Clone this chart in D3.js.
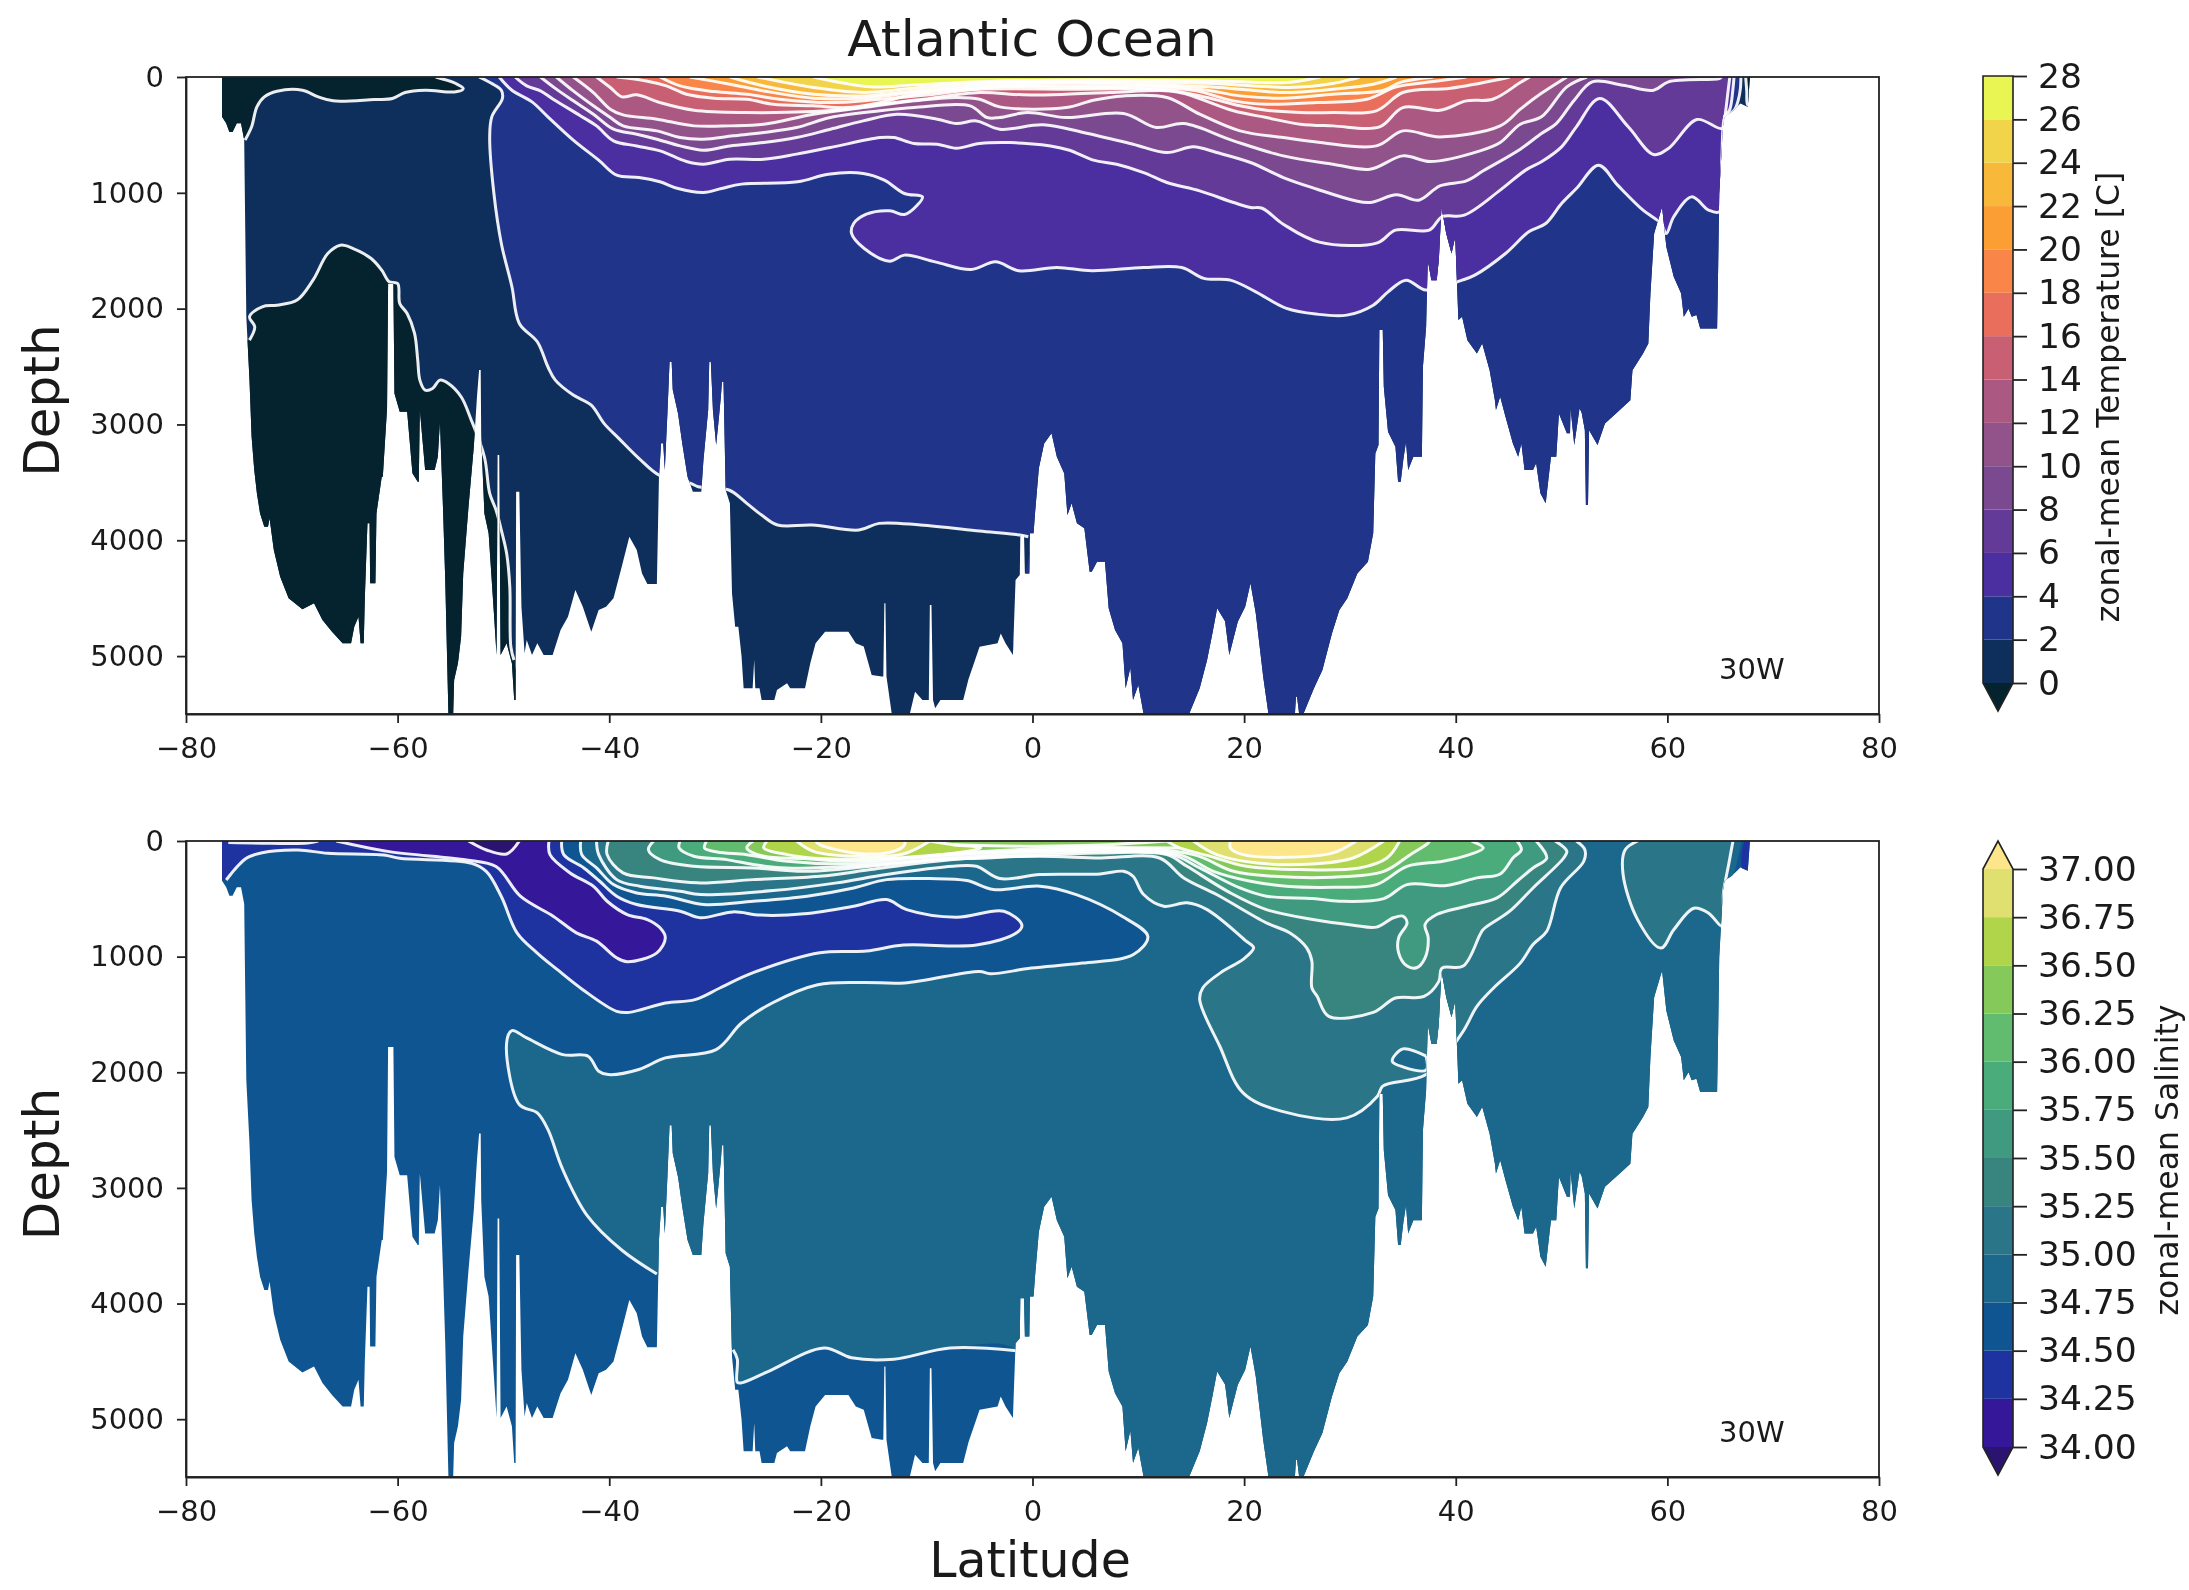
<!DOCTYPE html>
<html>
<head>
<meta charset="utf-8">
<script src="https://cdn.jsdelivr.net/npm/d3@7"></script>
<style>
  html, body { margin: 0; padding: 0; background: #fff; }
  svg { display: block; filter: blur(0.7px); }
  text { font-family: "DejaVu Sans", sans-serif; fill: #1a1a1a; }
</style>
</head>
<body>
<script>
var width = 2189, height = 1590;

var latTicks = [-80, -60, -40, -20, 0, 20, 40, 60, 80];
var depthTicks = [0, 1000, 2000, 3000, 4000, 5000];

var tempLevels = [0, 2, 4, 6, 8, 10, 12, 14, 16, 18, 20, 22, 24, 26, 28];
var tempColors = ["#0e2f5c", "#20358a", "#4b2fa0", "#633a98", "#7a4990", "#91538a", "#ab5882", "#c95f73", "#e96f5c", "#f98549", "#fb9f35", "#f8b93a", "#f2d44a", "#e8f552"];
var tempUnder = "#05232e";

var saltLevels = [34, 34.25, 34.5, 34.75, 35, 35.25, 35.5, 35.75, 36, 36.25, 36.5, 36.75, 37];
var saltColors = ["#35189a", "#1f33a0", "#0f5592", "#1b688c", "#2a7688", "#37857e", "#3f9a80", "#4bac7b", "#62bc6f", "#85c95a", "#b0d44a", "#dfe070"];
var saltUnder = "#2b1470", saltOver = "#fde68a";

// sea floor, [latitude, depth]
var bathy = [[-76.6,344],[-76.2,400],[-75.9,474],[-75.6,474],[-75.2,400],[-74.8,400],[-74.5,545],[-74.4,1320],[-74.3,2070],[-74,2617],
[-73.8,3106],[-73.55,3394],[-73.3,3595],[-73,3768],[-72.6,3883],[-72.25,3883],[-72.1,3811],[-71.7,4084],[-71.1,4314],[-70.3,4501],[-69,4596],[-67.9,4544],[-67.1,4688],[-66.2,4790],[-65.2,4890],[-64.4,4890],[-64.1,4746],[-63.7,4660],[-63.5,4890],[-63.2,4890],[-63.1,4500],[-62.85,3854],[-62.65,3854],[-62.6,4372],[-62.1,4372],[-62,3768],[-61.5,3451],[-61.4,3451],[-61,2862],
[-60.9,1782],[-60.4,1782],[-60.3,2732],[-59.8,2890],[-59.1,2890],[-58.6,3422],[-58.1,3494],[-58,3494],[-57.9,2876],[-57.4,3394],[-56.5,3394],[-56.2,3279],[-56,2976],[-55.7,3753],[-55.5,4343],[-55.2,5500],[-54.75,5500],[-54.66,5206],[-54.3,5062],[-54,4832],[-53.8,4286],[-53.3,3710],[-52.8,3192],[-52.5,2760],[-52.3,2530],[-52.15,2530],[-52.1,3106],[-51.8,3768],[-51.4,3940],[-50.9,4631],[-50.65,4990],[-50.55,3264],[-50.4,3264],[-50.27,4990],[-49.7,4890],[-49.2,5062],[-48.98,5379],[-48.85,5379],[-48.8,3581],[-48.5,3581],[-48.3,4573],[-48,4976],[-47.8,4860],[-47.3,4990],[-46.8,4890],[-46.2,4990],[-45.35,4990],[-44.6,4775],[-43.9,4660],[-43.2,4430],[-42.5,4573],[-41.7,4790],[-41,4602],[-40.3,4573],[-39.6,4501],[-38.9,4257],[-38.1,3969],[-37.4,4084],[-36.9,4286],[-36.4,4378],[-35.5,4378],[-35.3,3451],[-35.1,3163],[-34.9,3163],[-34.75,3394],[-34.5,2900],[-34.3,2459],[-34.1,2459],[-34,2700],[-33.5,2905],[-33.1,3164],[-32.6,3451],[-32.1,3581],[-31.3,3581],[-31.1,3308],[-30.65,2876],[-30.55,2459],[-30.4,2459],[-30.2,2880],[-29.9,3178],[-29.7,3000],[-29.45,2760],[-29.35,2631],[-29.2,2631],[-29,3566],[-28.6,3681],[-28.4,4458],[-28.1,4746],[-27.8,4746],[-27.5,5000],[-27.3,5278],[-26.45,5278],[-26.3,5034],[-26.2,5278],[-25.8,5278],[-25.6,5379],[-24.4,5379],[-24.15,5293],[-23.2,5235],[-22.9,5278],[-21.5,5278],[-21,5062],[-20.5,4890],[-19.6,4790],[-17.4,4790],[-16.7,4890],[-15.95,4918],[-15.2,5163],[-14.25,5177],[-14.1,5177],[-14,4544],[-13.9,4544],[-13.8,5177],[-13.3,5500],[-11.6,5500],[-11.1,5307],[-10.4,5379],[-9.8,5379],[-9.7,4559],[-9.55,4559],[-9.4,5379],[-9.2,5450],[-8.7,5379],[-6.55,5379],[-6.05,5200],[-5,4919],
[-3.3,4890],[-3,4804],[-2.55,4890],[-1.85,4990],[-1.6,4343],[-1.2,4300],[-1.15,3955],[-0.8,3955],[-0.72,4286],[-0.3,4286],[-0.24,3940],[0.1,3940],[0.25,3753],[0.6,3379],[1.1,3164],[1.8,3077],[2.3,3279],[3,3423],[3.3,3782],[3.7,3681],[4.2,3854],[4.9,3897],[5.4,4271],[5.6,4271],[6.1,4185],[6.85,4185],[7.2,4588],[7.8,4775],[8.5,4890],[8.8,5278],[9.25,5100],[9.5,5379],[10,5250],[10.5,5500],[14.8,5500],[15.8,5278],[16.5,5034],[17,4804],[17.45,4588],[18.2,4700],[18.6,4990],[19.4,4703],[20.1,4573],[20.6,4372],[21.1,4631],[21.8,5177],[22.3,5500],[24.8,5500],[24.9,5350],[25,5350],[25.2,5500],[25.6,5500],[26.6,5278],[27.4,5120],[28.3,4804],[29,4602],[29.75,4501],[30.7,4286],[31.7,4185],[32.2,3940],[32.4,3250],[32.7,3178],
[32.78,2185],[33.1,2185],[33.2,2675],[33.6,3063],[34.3,3192],[34.55,3494],[34.8,3494],[35.05,3300],[35.3,3150],[35.5,3394],[36,3279],[36.8,3279],[36.9,2502],[37.2,2157],[37.35,1581],[37.7,1754],[38.2,1754],[38.4,1581],[38.65,1121],[39.1,1351],[39.6,1524],[39.95,1380],[40.25,2099],[40.6,2070],[41.1,2272],[42,2387],[42.5,2300],[43.2,2531],[43.7,2790],
[43.8,2876],[44.2,2760],[44.7,2933],[45.4,3164],[45.9,3279],[46.2,3164],[46.5,3394],[47.3,3394],[47.6,3336],[48,3595],[48.5,3681],[49,3279],[49.5,3279],[49.75,2905],[50.5,3077],[50.8,3077],[50.85,2860],[51.2,3178],[51.7,2860],[51.9,2900],[52.2,3049],[52.3,3695],[52.5,3695],[52.6,3049],[53.4,3178],[54.1,2991],[55.5,2876],[56.5,2790],
[56.7,2531],[57.7,2387],[58.2,2300],[58.4,1869],[58.75,1351],[59.4,1150],[59.5,1121],[59.9,1466],[60.6,1725],[61.3,1869],[61.55,2070],[62,2000],[62.3,2070],[62.75,2055],[63.1,2171],[64.7,2171],[64.8,1639],[64.9,1006],[65.25,430],[65.4,344],[66.1,300],[66.9,229],[67.6,258],[67.8,0]];

// isotherms, [latitude, depth]
var T0a = [[-56.4,0],[-54.5,56],[-53.8,100],[-54.5,128],[-57.4,114],[-59.3,134],[-60.5,186],[-62.2,194],[-66.1,206],[-67.5,172],[-69,114],[-71.4,123],[-72.6,172],[-73.3,258],[-73.8,430],[-74.42,545]];
var T0b = [[-74,2272],[-73.5,2157],[-74,2070],[-72.8,1984],[-71.4,1970],[-69.5,1926],[-68,1754],[-66.6,1524],[-65.4,1452],[-64.2,1481],[-62.5,1567],[-61.5,1668],[-60.8,1768],[-60,1783],[-59.8,1955],[-59.1,2042],[-58.4,2214],[-58.1,2444],[-57.9,2617],[-57.4,2703],[-56.7,2689],[-56,2617],[-55.2,2646],[-54,2761],[-53.1,2948],[-51.8,3279],[-51.3,3595],[-50.7,3739],[-50.2,3912],[-49.7,4113],[-49.4,4401],[-49.3,4919],[-49,5034]];
var T0c = [[67.4,0],[67.5,120],[67.6,240],[68,240],[68,0]];
var T2 = [[-52.3,0],[-51.1,56],[-50.2,114],[-50.1,186],[-51.1,344],[-51.3,517],[-50.9,1006],[-50.2,1437],[-49.2,1811],[-48.5,2128],[-46.8,2286],[-45.8,2502],[-45.1,2617],[-43.4,2746],[-41.7,2833],[-40.5,2991],[-39.1,3120],[-37.2,3293],[-35.2,3443],[-32.3,3509],[-31.6,3538],[-28.7,3566],[-27,3681],[-25.6,3782],[-24.1,3868],[-20.8,3868],[-16.4,3912],[-14.5,3854],[-10.6,3868],[-5,3920],[-1.2,3955],[-0.4,3969]];
var T2tail = [[65.3,345],[66.3,290],[66.7,200],[66.9,100],[66.95,0]];
var T4 = [[-50.4,0],[-49.2,114],[-47.3,215],[-45.8,344],[-43.4,545],[-41,718],[-39.3,848],[-37.2,868],[-35.2,905],[-33.5,963],[-31.1,997],[-29.4,963],[-27.5,925],[-22.2,905],[-19.3,839],[-16,833],[-14,891],[-12.1,1006],[-10.4,1035],[-10.9,1107],[-12.1,1187],[-13.5,1155],[-15.7,1184],[-16.9,1265],[-17.1,1351],[-15.9,1481],[-13.5,1590],[-12.1,1538],[-9.2,1596],[-5.8,1662],[-3.5,1596],[-1.3,1673],[2.3,1645],[5.6,1673],[10.5,1645],[14.1,1645],[16.2,1739],[18.7,1754],[21.1,1855],[24,1998],[26.8,2047],[29.7,2056],[32.2,1970],[33.6,1855],[35.3,1754],[37.2,1840],[40.6,1754],[41.8,1711],[44.7,1524],[46.9,1337],[48.5,1265],[50,1092],[51.4,963],[53.5,761],[55.3,934],[57.7,1150],[59.4,1265],[59.9,1351],[60.6,1207],[62.3,1035],[63.9,1150],[64.9,1164],[65.15,700],[65.4,350],[65.9,280],[66.2,100],[66.3,0]];
var T6 = [[-48.9,0],[-47.8,77],[-46.5,120],[-45.3,192],[-42.7,336],[-41.2,422],[-39.6,551],[-37.4,595],[-35.2,638],[-32.7,730],[-31.1,753],[-28.6,710],[-25.4,710],[-22.3,666],[-19.1,609],[-14.4,523],[-13.1,523],[-11.2,574],[-9,580],[-7.2,615],[-5,574],[-2.1,566],[1.7,595],[3.5,632],[5.75,718],[7.95,753],[10.5,825],[12.7,911],[15.8,983],[19,1084],[20.6,1127],[21.7,1133],[23.7,1271],[27.1,1426],[32.6,1432],[34.3,1322],[37.5,1322],[38.7,1207],[40.8,1193],[44.2,977],[46.6,804],[48.1,732],[50,603],[51.4,430],[53.6,186],[56.3,430],[58.7,669],[60.1,617],[62.8,367],[65.2,445],[65.5,300],[65.7,150],[65.9,0]];
var T8 = [[-46.5,0],[-45,105],[-43.4,206],[-41.5,321],[-39.6,451],[-37.4,494],[-35.5,537],[-33.3,595],[-31.1,632],[-28.6,595],[-25.4,566],[-22.3,523],[-19.1,451],[-16,379],[-12.8,321],[-9,364],[-7.2,402],[-5.3,379],[-3.1,451],[1,413],[4.8,479],[9.5,580],[12.7,652],[15.2,603],[17.4,652],[20.6,738],[23.7,868],[26.9,969],[30.3,1064],[31.9,1084],[34.4,1017],[36.5,1064],[38.5,940],[41,897],[42.6,810],[46.1,623],[48.1,488],[49.5,402],[51.2,200],[52.9,42],[55.8,71],[58.7,114],[60.1,42],[64.9,13],[65.1,0]];
var T10 = [[-45,0],[-43.4,120],[-41.5,249],[-39.9,350],[-38.7,422],[-35.5,465],[-33.3,523],[-31.1,537],[-28.3,508],[-25.4,479],[-22.3,436],[-19.1,350],[-14.4,292],[-11.2,264],[-5.9,249],[-4.3,350],[-3.1,350],[-0.5,307],[3.2,350],[8.6,315],[11.7,436],[14.3,402],[19,551],[23.7,681],[28.4,753],[31.9,796],[35,681],[37.6,730],[42.3,638],[44.2,566],[46.1,408],[48.1,344],[50.5,85],[52.4,0]];
var T12 = [[-43.4,0],[-41.5,134],[-39.9,278],[-38.7,327],[-35.5,364],[-32,422],[-28.6,422],[-25.4,408],[-20.7,321],[-16,264],[-11.2,206],[-7.2,177],[-5,192],[-3.1,258],[3.2,264],[5.75,200],[8.6,163],[12.7,177],[15.8,321],[19.6,465],[23.7,523],[27.2,566],[32.5,595],[35,465],[38.5,517],[44.2,422],[46.1,278],[47.6,172],[50.5,0]];
var T14 = [[-41.2,0],[-39.9,91],[-38.8,172],[-37.4,154],[-35.2,221],[-32,287],[-27,307],[-20.7,298],[-17.6,278],[-14.4,235],[-10.3,192],[-5,134],[-0.9,154],[3.2,149],[7.3,134],[13,120],[14.6,149],[19,292],[22.1,350],[25.3,408],[28.4,422],[32.8,431],[35,264],[38.5,287],[41,206],[43.5,192],[46.1,48],[47,0]];
var T16 = [[-39.3,0],[-36.5,34],[-34.6,77],[-32.7,149],[-30.1,183],[-27,192],[-24.5,235],[-20.7,249],[-17.6,264],[-14.4,221],[-11.2,149],[-5,105],[3.2,105],[12.7,114],[16.5,177],[19.6,249],[22.1,287],[25.3,307],[28.4,307],[32.5,292],[35,134],[39.5,97],[44.2,19],[45.1,0]];
var T18 = [[-35.2,0],[-33.3,77],[-30.1,126],[-27,149],[-23.9,192],[-19.1,221],[-14.4,192],[-9.7,154],[-3.1,85],[3.2,91],[12.7,97],[15.5,120],[19,206],[22.1,235],[26.9,221],[31.6,192],[34.4,85],[37.9,39],[41,0]];
var T20 = [[-32.4,0],[-28.6,62],[-25.4,120],[-20.7,183],[-16,183],[-11.2,134],[-3.1,77],[6.4,80],[12.7,80],[16.5,114],[19.6,163],[23.7,183],[28.4,149],[33.2,114],[34.7,48],[37.9,0]];
var T22 = [[-28.6,0],[-25.4,77],[-20.7,149],[-16,163],[-11.2,120],[-3.1,62],[9.5,62],[16.5,85],[19.6,105],[23.7,134],[28.4,105],[32.2,62],[34.4,0]];
var T24 = [[-26,0],[-20.7,91],[-16,134],[-11.2,97],[-3.1,48],[11.1,48],[17.1,57],[20.9,77],[24.3,91],[28.4,57],[30.9,0]];
var T26 = [[-20.7,0],[-15.3,85],[-11.2,68],[-3.1,34],[12.7,28],[19,39],[24,48],[27.2,0]];

// corners that close an isotherm into a filled region
var T0aClose = [[-78,545],[-78,0]];
var T0bClose = [[-49,5600],[-78,5600],[-78,2272]];
var T2Close = [[-0.4,5600],[65.1,5600],[65.3,345]].concat(T2tail.slice(1));

// isohalines, [latitude, depth]
var S34 = [[-53.3,0],[-51.6,78],[-49.7,112],[-48.5,0]];
var S34_25 = [[-65.8,0],[-60.8,92],[-53.5,164],[-50.7,221],[-48.4,477],[-45.3,650],[-43.1,794],[-41.2,866],[-39.3,1010],[-38.3,1044],[-35.5,967],[-34.7,837],[-35.2,751],[-36.4,679],[-38.3,636],[-40.2,521],[-41.5,391],[-43.7,276],[-45.6,118],[-45.7,0]];
var S34_25b = [[-76,14],[-72,20],[-68.5,18],[-67.5,0]];
var S34_5 = [[-76.2,337],[-74.3,150],[-72.8,101],[-69.4,78],[-66.6,106],[-61.3,121],[-59.8,150],[-53,193],[-51.6,265],[-50.2,480],[-48.7,797],[-46.8,969],[-44.9,1113],[-42.5,1286],[-39.3,1473],[-38.1,1482],[-34.7,1401],[-31.9,1372],[-29.5,1269],[-26.4,1139],[-20.1,967],[-15.7,952],[-12.2,900],[-5.3,900],[-1.5,794],[-1,728],[-2.7,607],[-7.2,659],[-11.9,593],[-13.8,506],[-16.9,564],[-21.6,630],[-25.7,641],[-28.3,613],[-31.4,664],[-33.3,607],[-37.4,549],[-39.3,477],[-40.9,348],[-42.4,233],[-44.3,118],[-44.5,0]];
var S34_75 = [[-42.7,0],[-42.6,118],[-41.2,233],[-39.6,377],[-37.4,449],[-34.6,477],[-31.1,549],[-26.4,521],[-21.3,477],[-16.9,406],[-13.8,334],[-9.7,325],[-6.2,342],[-3.7,420],[0.7,391],[4.2,466],[8.5,653],[10.9,826],[9.5,984],[4.7,1056],[-0.1,1099],[-4,1148],[-5,1128],[-12.1,1228],[-16,1223],[-20.3,1243],[-24.6,1401],[-27.5,1574],[-29.9,1804],[-34.7,1876],[-37.2,1976],[-40.1,2020],[-41,1991],[-42,1861],[-44.4,1847],[-47.8,1703],[-49.2,1640],[-49.7,1746],[-48.5,2279],[-46.8,2351],[-45.8,2494],[-44.4,2840],[-42.1,3237],[-38.8,3539],[-35.5,3744]];
var S34_75b = [[-28.3,4400],[-27.9,4480],[-27.9,4680],[-27.5,4686],[-25,4589],[-19.7,4384],[-17.1,4469],[-13.1,4481],[-7.8,4384],[-1.5,4408]];
var S35 = [[-41.2,0],[-41,118],[-39.3,334],[-37.1,391],[-33.3,434],[-31.4,463],[-24.5,429],[-18.5,362],[-13.8,290],[-7.5,219],[-5.3,219],[-3.1,325],[0.7,290],[6.4,285],[8.6,262],[9.5,305],[10.5,463],[12.4,564],[14.6,535],[16.5,593],[20.2,866],[20.9,923],[19.9,1024],[18,1125],[16.1,1269],[15.8,1372],[17.7,1775],[19.9,2178],[23.5,2336],[29.7,2394],[32.6,2207],[33.1,2120],[37.2,2020],[40.6,1660],[42,1430],[43.6,1269],[46.1,1056],[47.3,895],[48.6,780],[49.9,406],[52.1,175],[52.2,75],[51.4,0]];
var S35lens = [[37.2,1861],[35,1798],[34,1904],[35,1953],[37.2,1982]];
var S35b = [[57.2,0],[56,78],[55.8,279],[57.2,682],[59.4,926],[60.6,768],[62.5,581],[63.9,624],[65.2,739],[65.3,450],[65.8,200],[66.2,0]];
var S35_25 = [[-40.1,0],[-40.2,118],[-38.7,276],[-35.8,319],[-31.7,362],[-26.4,334],[-20.1,305],[-15.3,247],[-10.6,190],[-5.6,147],[0.7,132],[6.4,147],[12,147],[14.3,319],[17.4,463],[22.1,708],[24.3,794],[25.9,923],[26.4,1038],[26.4,1269],[26.9,1343],[28,1516],[32.2,1482],[34.3,1358],[37,1344],[38.4,1214],[38.7,1099],[40.7,1082],[42.3,808],[42.6,765],[45.1,607],[47.3,406],[50.2,147],[50.5,89],[49.4,0]];
var S35_5 = [[-35.8,0],[-36.3,75],[-35.2,161],[-32,219],[-26.4,233],[-21.6,262],[-15.3,219],[-9,161],[-4.3,147],[6.4,103],[12.7,118],[14.6,219],[18.7,449],[22.1,593],[26.5,679],[30.3,728],[32.5,745],[34.1,664],[35,650],[35.4,708],[34.6,837],[34.6,967],[35.4,1082],[36.3,1096],[37.1,1010],[37.4,837],[37.1,722],[38.2,636],[41,564],[43.9,492],[45.8,348],[47.3,233],[48.6,147],[47.6,0]];
var S35_75 = [[-33.3,0],[-33.4,60],[-32,132],[-28.9,161],[-26.4,204],[-23.2,233],[-16.9,219],[-10.6,170],[-4.3,132],[6.4,89],[13.2,118],[15.8,233],[19.6,406],[22.1,477],[26.5,498],[29,521],[33.2,498],[35.4,377],[39.1,385],[42,319],[44.2,285],[45.4,147],[46.2,75],[45.8,0]];
var S36 = [[-30.8,0],[-31,60],[-29.8,95],[-27,118],[-23.2,175],[-16.9,198],[-10.6,147],[-4.3,112],[6.4,75],[13.9,118],[17.1,262],[20.6,348],[24,391],[28.4,400],[32.5,377],[35.4,219],[38.8,175],[41.3,118],[42.6,60],[41.5,0]];
var S36_25 = [[-26.4,0],[-27,60],[-25.4,132],[-21.6,152],[-16.9,175],[-10.6,132],[-4.3,89],[6.4,55],[15.2,118],[19,262],[22.8,305],[28.4,313],[33.2,262],[35.7,118],[37.4,17],[37.5,0]];
var S36_5a = [[-25.1,0],[-25.4,60],[-23.2,118],[-20.1,152],[-13.8,152],[-9,124],[-4.9,60],[-7.5,32],[-9.7,0]];
var S36_5b = [[12.7,0],[13.9,60],[16.8,132],[20.2,219],[25.3,247],[30.9,233],[33.5,147],[34.7,0]];
var S36_5c = [[-9,124],[-4.3,100],[6.4,62],[13.9,60]];
var S36_5d = [[-7.5,32],[0,45],[6.4,35],[12.7,0]];
var S36_75a = [[-22.3,0],[-20.7,89],[-16.9,132],[-12.2,112],[-9.7,0]];
var S36_75b = [[15.2,0],[17.4,118],[21.2,190],[26.5,199],[30.3,147],[33.2,0]];
var S37a = [[-20.5,0],[-20.1,32],[-16.9,103],[-13.8,103],[-12.2,46],[-12,0]];
var S37b = [[18.7,0],[18.7,60],[19.9,118],[24,141],[28.4,103],[30.6,0]];
var S34tail = [[67.3,0],[67,120],[67.2,280],[67.8,300],[68,0]];

var S34_5Close = [[-78,0],[-78,337]];
var S34_75Close = S34_75b.concat([[-0.4,5600],[65.1,5600],[65.3,500],[66.4,250],[67,0]]);

// filled regions painted bottom to top, then the contour lines
var tempBands = [
  [T2.concat(T2Close), tempColors[1]], [T4, tempColors[2]], [T6, tempColors[3]], [T8, tempColors[4]],
  [T10, tempColors[5]], [T12, tempColors[6]], [T14, tempColors[7]], [T16, tempColors[8]], [T18, tempColors[9]],
  [T20, tempColors[10]], [T22, tempColors[11]], [T24, tempColors[12]], [T26, tempColors[13]],
  [T0a.concat(T0aClose), tempUnder], [T0b.concat(T0bClose), tempUnder], [T0c, tempUnder]
];
var tempLines = [T0a, T0b, T0c, T2, T2tail, T4, T6, T8, T10, T12, T14, T16, T18, T20, T22, T24, T26];

var saltBands = [
  [S34_75.concat(S34_75Close), saltColors[3]], [S35, saltColors[4]], [S35lens, saltColors[3]], [S35b, saltColors[4]],
  [S35_25, saltColors[5]], [S35_5, saltColors[6]], [S35_75, saltColors[7]], [S36, saltColors[8]], [S36_25, saltColors[9]],
  [S36_5a, saltColors[10]], [S36_5b, saltColors[10]], [S36_75a, saltColors[11]], [S36_75b, saltColors[11]],
  [S37a, saltOver], [S37b, saltOver],
  [S34_5.concat(S34_5Close), saltColors[1]], [S34_25, saltColors[0]], [S34_25b, saltColors[0]], [S34, saltUnder], [S34tail, saltColors[1]]
];
var saltLines = [S34, S34_25, S34_25b, S34_5, S34_75, S34_75b, S35, S35lens.concat([S35lens[0]]), S35b, S35_25, S35_5, S35_75, S36, S36_25, S36_5a, S36_5b, S36_5c, S36_5d, S36_75a, S36_75b, S37a, S37b];

const svg = d3.select("body").append("svg")
    .attr("width", width)
    .attr("height", height);

var x = d3.scaleLinear().domain([-80, 80]).range([186, 1879]);

function panel(id, top, bottom, base, bands, lines) {
  var y = d3.scaleLinear().domain([0, 5500]).range([top, bottom]);

  var ocean = d3.area()
      .x(d => x(d[0]))
      .y0(y(0))
      .y1(d => y(d[1]));
  var contour = d3.line()
      .x(d => x(d[0]))
      .y(d => y(d[1]))
      .curve(d3.curveCatmullRom.alpha(0.5));

  svg.append("clipPath").attr("id", id)
    .append("path").attr("d", ocean(bathy));

  const g = svg.append("g").attr("clip-path", `url(#${id})`);

  g.append("rect")
      .attr("x", x.range()[0]).attr("y", top)
      .attr("width", x.range()[1] - x.range()[0]).attr("height", bottom - top)
      .attr("fill", base);

  g.selectAll("path.band")
    .data(bands).enter()
    .append("path")
      .attr("class", "band")
      .attr("d", d => contour(d[0]) + "Z")
      .attr("fill", d => d[1]);

  g.selectAll("path.iso")
    .data(lines).enter()
    .append("path")
      .attr("class", "iso")
      .attr("d", d => contour(d))
      .attr("fill", "none")
      .attr("stroke", "#fff")
      .attr("stroke-opacity", 0.92)
      .attr("stroke-width", 3)
      .attr("stroke-linejoin", "round");

  const gx = svg.append("g")
      .attr("transform", `translate(0,${bottom})`)
      .call(d3.axisBottom(x).tickValues(latTicks).tickSize(9).tickPadding(14).tickSizeOuter(0));
  const gy = svg.append("g")
      .attr("transform", `translate(${x.range()[0]},0)`)
      .call(d3.axisLeft(y).tickValues(depthTicks).tickFormat(d3.format("d")).tickSize(9).tickPadding(13).tickSizeOuter(0));
  [gx, gy].forEach(a => {
    a.selectAll("text").style("font-size", "29px").style("font-family", '"DejaVu Sans"');
    a.selectAll("line").attr("stroke-width", 1.8).attr("stroke", "#222");
    a.select(".domain").attr("stroke-width", 1.8).attr("stroke", "#222");
  });

  svg.append("rect")
      .attr("x", x.range()[0]).attr("y", top)
      .attr("width", x.range()[1] - x.range()[0]).attr("height", bottom - top)
      .attr("fill", "none").attr("stroke", "#222").attr("stroke-width", 1.8);

  svg.append("text")
      .attr("x", 1719).attr("y", bottom - 35)
      .style("font-size", "29px")
      .text("30W");

  svg.append("text")
      .attr("transform", `translate(59,${(top + bottom) / 2 + 5}) rotate(-90)`)
      .attr("text-anchor", "middle")
      .style("font-size", "50px")
      .text("Depth");
}

panel("ocean-t", 77, 714, tempColors[0], tempBands, tempLines);
panel("ocean-s", 841, 1477, saltColors[2], saltBands, saltLines);

svg.append("text")
    .attr("x", 1032).attr("y", 56)
    .attr("text-anchor", "middle")
    .style("font-size", "50.5px")
    .text("Atlantic Ocean");

svg.append("text")
    .attr("x", 1030).attr("y", 1577)
    .attr("text-anchor", "middle")
    .style("font-size", "49px")
    .text("Latitude");

function colorbar(levels, colors, range, under, over, tickFormat, label, labelX, labelY) {
  var c = d3.scaleLinear().domain([levels[0], levels[levels.length - 1]]).range(range);
  var left = 1983, right = 2013, mid = (left + right) / 2, tip = 28;

  const g = svg.append("g");
  g.selectAll("rect")
    .data(colors).enter()
    .append("rect")
      .attr("x", left).attr("width", right - left)
      .attr("y", (d, i) => c(levels[i + 1]))
      .attr("height", (d, i) => c(levels[i]) - c(levels[i + 1]))
      .attr("fill", d => d);

  var yLow = c(levels[0]), yHigh = c(levels[levels.length - 1]);
  var outline = [[left, yHigh]];
  if (over) {
    g.append("path").attr("d", `M${left},${yHigh}L${mid},${yHigh - tip}L${right},${yHigh}Z`).attr("fill", over);
    outline.push([mid, yHigh - tip]);
  }
  outline.push([right, yHigh], [right, yLow], [mid, yLow + tip], [left, yLow]);
  g.append("path").attr("d", `M${left},${yLow}L${mid},${yLow + tip}L${right},${yLow}Z`).attr("fill", under);
  g.append("path")
      .attr("d", d3.line()(outline) + "Z")
      .attr("fill", "none").attr("stroke", "#222").attr("stroke-width", 1.6);

  const axis = svg.append("g")
      .attr("transform", `translate(${right},0)`)
      .call(d3.axisRight(c).tickValues(levels).tickFormat(tickFormat).tickSize(14).tickPadding(11).tickSizeOuter(0));
  axis.select(".domain").remove();
  axis.selectAll("line").attr("stroke", "#222").attr("stroke-width", 1.8);
  axis.selectAll("text").style("font-size", "34.5px").style("font-family", '"DejaVu Sans"');

  svg.append("text")
      .attr("transform", `translate(${labelX},${labelY}) rotate(-90)`)
      .attr("text-anchor", "middle")
      .style("font-size", "31.5px")
      .text(label);
}

colorbar(tempLevels, tempColors, [683, 76], tempUnder, null, d3.format("d"), "zonal-mean Temperature [C]", 2119, 397);
colorbar(saltLevels, saltColors, [1447, 869], saltUnder, saltOver, d3.format(".2f"), "zonal-mean Salinity", 2178, 1160);
</script>
</body>
</html>
